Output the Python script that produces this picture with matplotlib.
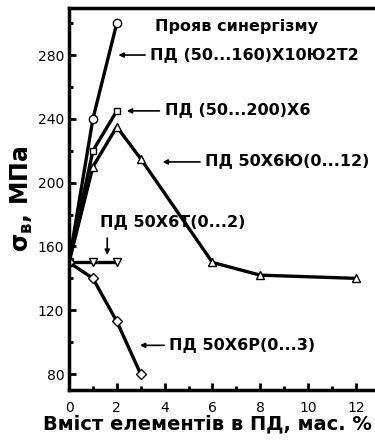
import matplotlib
matplotlib.use("Agg")
import matplotlib.pyplot as plt
from matplotlib.ticker import MultipleLocator

# Data
x_s1 = [0, 1, 2]
y_s1 = [150, 240, 300]           # ПД (50...160)Х10Ю2Т2
x_s2 = [0, 1, 2]
y_s2 = [150, 220, 245]           # ПД (50...200)Х6
x_s3 = [0, 1, 2, 3, 6, 8, 12]
y_s3 = [150, 210, 235, 215, 150, 142, 140]   # ПД 50Х6Ю(0...12)
x_s4 = [0, 1, 2]
y_s4 = [150, 150, 150]           # ПД 50Х6Т(0...2)
x_s5 = [0, 1, 2, 3]
y_s5 = [150, 140, 113, 80]       # ПД 50Х6Р(0...3)

xticks = [0, 2, 4, 6, 8, 10, 12]
yticks = [80, 120, 160, 200, 240, 280]

fig = plt.figure(figsize=(3.75, 4.45), dpi=100)
ax = fig.add_axes([69/375, 55/445, 13*23.9/375, 382/445])

mk = dict(color='black', lw=2.4, mfc='white', mec='black', mew=1.0, ms=6)
ax.plot(x_s1, y_s1, marker='o', **mk)
ax.plot(x_s2, y_s2, marker='s', **dict(mk, ms=5))
ax.plot(x_s3, y_s3, marker='^', **mk)
ax.plot(x_s4, y_s4, marker='v', **mk)
ax.plot(x_s5, y_s5, marker='D', **dict(mk, ms=5))

ax.set_xlim(0, 13)
ax.set_ylim(70, 309.5)
ax.set_xticks(xticks)
ax.set_yticks(yticks)
ax.xaxis.set_minor_locator(MultipleLocator(1))
ax.yaxis.set_minor_locator(MultipleLocator(20))
ax.tick_params(which='both', direction='in', width=2, labelsize=10)
ax.tick_params(which='major', length=5)
ax.tick_params(which='minor', length=3)
ax.tick_params(axis='x', pad=8)
for s in ax.spines.values():
    s.set_linewidth(2.5)

ax.set_ylabel(r'$\mathbf{\sigma_{в}}$, МПа', fontsize=17, fontweight='bold', labelpad=2)
ax.set_xlabel('Вміст елементів в ПД, мас. %', fontsize=14, fontweight='bold', labelpad=4)
ax.xaxis.set_label_coords(0.444, -0.065)

tk = dict(fontsize=11.5, fontweight='bold', va='center', ha='left')
ax.text(3.6, 298, 'Прояв синергізму', **tk)
ax.text(3.4, 280, 'ПД (50...160)Х10Ю2Т2', **tk)
ax.text(4.0, 245, 'ПД (50...200)Х6', **tk)
ax.text(5.7, 213, 'ПД 50Х6Ю(0...12)', **tk)
ax.text(1.3, 175, 'ПД 50Х6Т(0...2)', **tk)
ax.text(4.2, 98, 'ПД 50Х6Р(0...3)', **tk)

ak = dict(arrowstyle='-|>', color='black', lw=1.2, mutation_scale=7)
ax.annotate('', xy=(1.95, 280), xytext=(3.3, 280), arrowprops=ak)
ax.annotate('', xy=(2.3, 245), xytext=(3.9, 245), arrowprops=ak)
ax.annotate('', xy=(3.8, 213), xytext=(5.6, 213), arrowprops=ak)
ax.annotate('', xy=(1.6, 153), xytext=(1.6, 167), arrowprops=ak)
ax.annotate('', xy=(2.85, 98), xytext=(4.1, 98), arrowprops=ak)

fig.savefig('out.png', dpi=100)
